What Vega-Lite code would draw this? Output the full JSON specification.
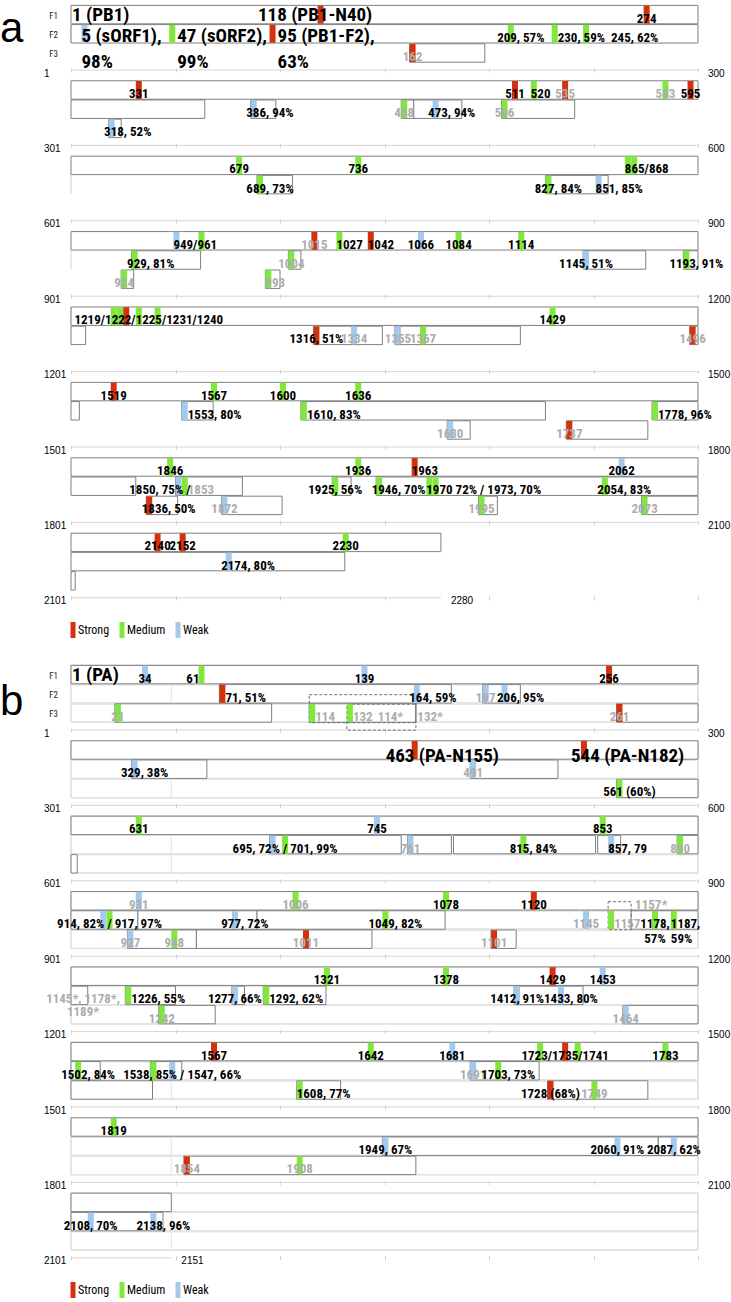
{
"$schema":"https://vega.github.io/schema/vega-lite/v6.json",
"padding":{"left":0,"top":4,"right":0,"bottom":0},
"config":{"view":{"stroke":null},
 "axisX":{"labels":false,"domain":false,"grid":false,"tickCount":6,"tickColor":"#d0d0d0","tickSize":4,"offset":5.4,"titleColor":"transparent"},
 "axisY":{"disable":true,"labels":false,"ticks":false,"domain":false,"grid":false,"titleColor":"transparent"},
 "text":{"font":"Roboto Condensed, Liberation Sans Narrow, Liberation Sans, sans-serif","fontSize":13,"fontWeight":"bold","baseline":"alphabetic","lineBreak":"\n","lineHeight":15,"dy":8}},
"datasets":{
"a":[
{"k":"line","row":0,"len":300,"from":"1","to":"300","panel":"a","frames":["F1","F2","F3"]},
{"k":"line","row":1,"len":300,"from":"301","to":"600","panel":"a","frames":["F1","F2","F3"]},
{"k":"line","row":2,"len":300,"from":"601","to":"900","panel":"a","frames":["F1","F2","F3"]},
{"k":"line","row":3,"len":300,"from":"901","to":"1200","panel":"a","frames":["F1","F2","F3"]},
{"k":"line","row":4,"len":300,"from":"1201","to":"1500","panel":"a","frames":["F1","F2","F3"]},
{"k":"line","row":5,"len":300,"from":"1501","to":"1800","panel":"a","frames":["F1","F2","F3"]},
{"k":"line","row":6,"len":300,"from":"1801","to":"2100","panel":"a","frames":["F1","F2","F3"]},
{"k":"line","row":7,"len":177,"from":"2101","to":"2280","panel":"a","frames":["F1","F2","F3"]},
{"k":"orf","row":0,"f":"F1","start":0,"end":300},
{"k":"orf","row":0,"f":"F2","start":0,"end":300},
{"k":"orf","row":0,"f":"F3","start":162,"end":198},
{"k":"orf","row":1,"f":"F1","start":0,"end":300},
{"k":"orf","row":1,"f":"F2","start":0,"end":64},
{"k":"orf","row":1,"f":"F2","start":86,"end":98},
{"k":"orf","row":1,"f":"F2","start":158,"end":164},
{"k":"orf","row":1,"f":"F2","start":164,"end":187},
{"k":"orf","row":1,"f":"F2","start":206,"end":241},
{"k":"orf","row":1,"f":"F3","start":18,"end":24},
{"k":"orf","row":2,"f":"F1","start":0,"end":300},
{"k":"orf","row":2,"f":"F2","start":89,"end":106},
{"k":"orf","row":2,"f":"F2","start":227,"end":257},
{"k":"orf","row":3,"f":"F1","start":0,"end":300},
{"k":"orf","row":3,"f":"F2","start":29,"end":62},
{"k":"orf","row":3,"f":"F2","start":104,"end":110},
{"k":"orf","row":3,"f":"F2","start":245,"end":275},
{"k":"orf","row":3,"f":"F2","start":293,"end":300},
{"k":"orf","row":3,"f":"F3","start":24,"end":30},
{"k":"orf","row":3,"f":"F3","start":93,"end":100},
{"k":"orf","row":4,"f":"F1","start":0,"end":300},
{"k":"orf","row":4,"f":"F2","start":0,"end":7},
{"k":"orf","row":4,"f":"F2","start":116,"end":149},
{"k":"orf","row":4,"f":"F2","start":155,"end":215},
{"k":"orf","row":4,"f":"F2","start":296,"end":300},
{"k":"orf","row":5,"f":"F1","start":0,"end":300},
{"k":"orf","row":5,"f":"F2","start":0,"end":4},
{"k":"orf","row":5,"f":"F2","start":53,"end":68},
{"k":"orf","row":5,"f":"F2","start":110,"end":227},
{"k":"orf","row":5,"f":"F2","start":278,"end":300},
{"k":"orf","row":5,"f":"F3","start":180,"end":191},
{"k":"orf","row":5,"f":"F3","start":237,"end":276},
{"k":"orf","row":6,"f":"F1","start":0,"end":300},
{"k":"orf","row":6,"f":"F2","start":0,"end":31},
{"k":"orf","row":6,"f":"F2","start":50,"end":82},
{"k":"orf","row":6,"f":"F2","start":125,"end":134},
{"k":"orf","row":6,"f":"F2","start":146,"end":300},
{"k":"orf","row":6,"f":"F3","start":36,"end":51},
{"k":"orf","row":6,"f":"F3","start":72,"end":101},
{"k":"orf","row":6,"f":"F3","start":195,"end":204},
{"k":"orf","row":6,"f":"F3","start":273,"end":300},
{"k":"orf","row":7,"f":"F1","start":0,"end":177},
{"k":"orf","row":7,"f":"F2","start":0,"end":131},
{"k":"orf","row":7,"f":"F3","start":0,"end":2},
{"k":"site","row":0,"f":"F1","p":1,"label":"1 (PB1)"},
{"k":"site","row":0,"f":"F1","p":118,"s":"Strong","label":"118 (PB1-N40)"},
{"k":"site","row":0,"f":"F1","p":274,"s":"Strong","label":"274"},
{"k":"site","row":0,"f":"F2","p":5,"s":"Weak","label":"5 (sORF1),\n98%"},
{"k":"site","row":0,"f":"F2","p":47,"s":"Medium","label":"47 (sORF2),\n99%"},
{"k":"site","row":0,"f":"F2","p":95,"s":"Strong","label":"95 (PB1-F2),\n63%"},
{"k":"site","row":0,"f":"F2","p":209,"s":"Medium","label":"209, 57%"},
{"k":"site","row":0,"f":"F2","p":230,"s":"Medium","label":"230, 59%"},
{"k":"site","row":0,"f":"F2","p":245,"s":"Medium","label":"245, 62%"},
{"k":"site","row":0,"f":"F3","p":162,"s":"Strong","label":"162","tone":"minor"},
{"k":"site","row":1,"f":"F1","p":31,"s":"Strong","label":"331"},
{"k":"site","row":1,"f":"F1","p":211,"s":"Strong","label":"511"},
{"k":"site","row":1,"f":"F1","p":220,"s":"Medium","label":"520"},
{"k":"site","row":1,"f":"F1","p":235,"s":"Strong","label":"535","tone":"minor"},
{"k":"site","row":1,"f":"F1","p":283,"s":"Medium","label":"583","tone":"minor"},
{"k":"site","row":1,"f":"F1","p":295,"s":"Strong","label":"595"},
{"k":"site","row":1,"f":"F2","p":86,"s":"Weak","label":"386, 94%"},
{"k":"site","row":1,"f":"F2","p":158,"s":"Medium","label":"458","tone":"minor"},
{"k":"site","row":1,"f":"F2","p":173,"s":"Weak","label":"473, 94%"},
{"k":"site","row":1,"f":"F2","p":206,"s":"Medium","label":"506","tone":"minor"},
{"k":"site","row":1,"f":"F3","p":18,"s":"Weak","label":"318, 52%"},
{"k":"site","row":2,"f":"F1","p":79,"s":"Medium","label":"679"},
{"k":"site","row":2,"f":"F1","p":136,"s":"Medium","label":"736"},
{"k":"site","row":2,"f":"F1","p":265,"s":"Medium","label":"865/868"},
{"k":"site","row":2,"f":"F1","p":268,"s":"Medium","label":""},
{"k":"site","row":2,"f":"F2","p":89,"s":"Medium","label":"689, 73%"},
{"k":"site","row":2,"f":"F2","p":227,"s":"Medium","label":"827, 84%"},
{"k":"site","row":2,"f":"F2","p":251,"s":"Weak","label":"851, 85%"},
{"k":"site","row":3,"f":"F1","p":49,"s":"Weak","label":"949/961"},
{"k":"site","row":3,"f":"F1","p":61,"s":"Medium","label":""},
{"k":"site","row":3,"f":"F1","p":115,"s":"Strong","label":"1015","tone":"minor"},
{"k":"site","row":3,"f":"F1","p":127,"s":"Medium","label":"1027"},
{"k":"site","row":3,"f":"F1","p":142,"s":"Strong","label":"1042"},
{"k":"site","row":3,"f":"F1","p":166,"s":"Weak","label":"1066"},
{"k":"site","row":3,"f":"F1","p":184,"s":"Medium","label":"1084"},
{"k":"site","row":3,"f":"F1","p":214,"s":"Medium","label":"1114"},
{"k":"site","row":3,"f":"F2","p":29,"s":"Medium","label":"929, 81%"},
{"k":"site","row":3,"f":"F2","p":104,"s":"Medium","label":"1004","tone":"minor"},
{"k":"site","row":3,"f":"F2","p":245,"s":"Weak","label":"1145, 51%"},
{"k":"site","row":3,"f":"F2","p":293,"s":"Medium","label":"1193, 91%"},
{"k":"site","row":3,"f":"F3","p":24,"s":"Medium","label":"924","tone":"minor"},
{"k":"site","row":3,"f":"F3","p":93,"s":"Medium","label":"993","tone":"minor"},
{"k":"site","row":4,"f":"F1","p":19,"s":"Medium","label":""},
{"k":"site","row":4,"f":"F1","p":22,"s":"Medium","label":""},
{"k":"site","row":4,"f":"F1","p":25,"s":"Strong","label":""},
{"k":"site","row":4,"f":"F1","p":31,"s":"Medium","label":"1219/1222/1225/1231/1240"},
{"k":"site","row":4,"f":"F1","p":40,"s":"Medium","label":""},
{"k":"site","row":4,"f":"F1","p":229,"s":"Medium","label":"1429"},
{"k":"site","row":4,"f":"F2","p":116,"s":"Strong","label":"1316, 51%"},
{"k":"site","row":4,"f":"F2","p":134,"s":"Weak","label":"1334","tone":"minor"},
{"k":"site","row":4,"f":"F2","p":155,"s":"Weak","label":"1355","tone":"minor"},
{"k":"site","row":4,"f":"F2","p":167,"s":"Medium","label":"1367","tone":"minor"},
{"k":"site","row":4,"f":"F2","p":296,"s":"Strong","label":"1496","tone":"minor"},
{"k":"site","row":5,"f":"F1","p":19,"s":"Strong","label":"1519"},
{"k":"site","row":5,"f":"F1","p":67,"s":"Medium","label":"1567"},
{"k":"site","row":5,"f":"F1","p":100,"s":"Medium","label":"1600"},
{"k":"site","row":5,"f":"F1","p":136,"s":"Medium","label":"1636"},
{"k":"site","row":5,"f":"F2","p":53,"s":"Weak","label":"1553, 80%"},
{"k":"site","row":5,"f":"F2","p":110,"s":"Medium","label":"1610, 83%"},
{"k":"site","row":5,"f":"F2","p":278,"s":"Medium","label":"1778, 96%"},
{"k":"site","row":5,"f":"F3","p":180,"s":"Weak","label":"1680","tone":"minor"},
{"k":"site","row":5,"f":"F3","p":237,"s":"Strong","label":"1737","tone":"minor"},
{"k":"site","row":6,"f":"F1","p":46,"s":"Medium","label":"1846"},
{"k":"site","row":6,"f":"F1","p":136,"s":"Medium","label":"1936"},
{"k":"site","row":6,"f":"F1","p":163,"s":"Strong","label":"1963"},
{"k":"site","row":6,"f":"F1","p":262,"s":"Weak","label":"2062"},
{"k":"site","row":6,"f":"F2","p":50,"s":"Weak","label":"1850, 75% /"},
{"k":"site","row":6,"f":"F2","p":53,"s":"Medium","label":"1853","tone":"minor"},
{"k":"site","row":6,"f":"F2","p":125,"s":"Medium","label":"1925, 56%"},
{"k":"site","row":6,"f":"F2","p":146,"s":"Medium","label":"1946, 70%"},
{"k":"site","row":6,"f":"F2","p":170,"s":"Medium","label":"1970 72% / 1973, 70%"},
{"k":"site","row":6,"f":"F2","p":173,"s":"Medium","label":""},
{"k":"site","row":6,"f":"F2","p":254,"s":"Medium","label":"2054, 83%"},
{"k":"site","row":6,"f":"F3","p":36,"s":"Strong","label":"1836, 50%"},
{"k":"site","row":6,"f":"F3","p":72,"s":"Weak","label":"1872","tone":"minor"},
{"k":"site","row":6,"f":"F3","p":195,"s":"Medium","label":"1995","tone":"minor"},
{"k":"site","row":6,"f":"F3","p":273,"s":"Medium","label":"2073","tone":"minor"},
{"k":"site","row":7,"f":"F1","p":40,"s":"Strong","label":"2140"},
{"k":"site","row":7,"f":"F1","p":52,"s":"Strong","label":"2152"},
{"k":"site","row":7,"f":"F1","p":130,"s":"Medium","label":"2230"},
{"k":"site","row":7,"f":"F2","p":74,"s":"Weak","label":"2174, 80%"}
],
"b":[
{"k":"line","row":0,"len":300,"from":"1","to":"300","panel":"b","frames":["F1","F2","F3"]},
{"k":"line","row":1,"len":300,"from":"301","to":"600","panel":"b","frames":["F1","F2","F3"]},
{"k":"line","row":2,"len":300,"from":"601","to":"900","panel":"b","frames":["F1","F2","F3"]},
{"k":"line","row":3,"len":300,"from":"901","to":"1200","panel":"b","frames":["F1","F2","F3"]},
{"k":"line","row":4,"len":300,"from":"1201","to":"1500","panel":"b","frames":["F1","F2","F3"]},
{"k":"line","row":5,"len":300,"from":"1501","to":"1800","panel":"b","frames":["F1","F2","F3"]},
{"k":"line","row":6,"len":300,"from":"1801","to":"2100","panel":"b","frames":["F1","F2","F3"]},
{"k":"line","row":7,"len":48,"from":"2101","to":"2151","panel":"b","frames":["F1","F2","F3"]},
{"k":"orf","row":0,"f":"F1","start":0,"end":300},
{"k":"orf","row":0,"f":"F2","start":71,"end":182},
{"k":"orf","row":0,"f":"F2","start":197,"end":215},
{"k":"orf","row":0,"f":"F3","start":21,"end":96},
{"k":"orf","row":0,"f":"F3","start":114,"end":165},
{"k":"orf","row":0,"f":"F3","start":261,"end":300},
{"k":"alt","row":0,"f":"F3","start":114,"end":165,"note":"114*"},
{"k":"alt","row":0,"f":"F3","start":132,"end":165,"note":"132*"},
{"k":"orf","row":1,"f":"F1","start":0,"end":300},
{"k":"orf","row":1,"f":"F2","start":29,"end":65},
{"k":"orf","row":1,"f":"F2","start":191,"end":233},
{"k":"orf","row":1,"f":"F3","start":261,"end":300},
{"k":"orf","row":2,"f":"F1","start":0,"end":300},
{"k":"orf","row":2,"f":"F2","start":95,"end":158},
{"k":"orf","row":2,"f":"F2","start":161,"end":182},
{"k":"orf","row":2,"f":"F2","start":183,"end":251},
{"k":"orf","row":2,"f":"F2","start":252,"end":263},
{"k":"orf","row":2,"f":"F2","start":290,"end":300},
{"k":"orf","row":2,"f":"F3","start":0,"end":3},
{"k":"orf","row":3,"f":"F1","start":0,"end":300},
{"k":"orf","row":3,"f":"F2","start":0,"end":32},
{"k":"orf","row":3,"f":"F2","start":32,"end":89},
{"k":"orf","row":3,"f":"F2","start":89,"end":179},
{"k":"orf","row":3,"f":"F2","start":268,"end":300},
{"k":"alt","row":3,"f":"F2","start":257,"end":268,"note":"1157*"},
{"k":"orf","row":3,"f":"F3","start":27,"end":60},
{"k":"orf","row":3,"f":"F3","start":60,"end":144},
{"k":"orf","row":3,"f":"F3","start":201,"end":213},
{"k":"orf","row":4,"f":"F1","start":0,"end":300},
{"k":"orf","row":4,"f":"F2","start":0,"end":8,"note":"1145*, 1178*,\n1189*"},
{"k":"orf","row":4,"f":"F2","start":26,"end":50},
{"k":"orf","row":4,"f":"F2","start":77,"end":83},
{"k":"orf","row":4,"f":"F2","start":92,"end":122},
{"k":"orf","row":4,"f":"F2","start":212,"end":245},
{"k":"orf","row":4,"f":"F3","start":42,"end":69},
{"k":"orf","row":4,"f":"F3","start":264,"end":300},
{"k":"orf","row":5,"f":"F1","start":0,"end":300},
{"k":"orf","row":5,"f":"F2","start":0,"end":14},
{"k":"orf","row":5,"f":"F2","start":38,"end":53},
{"k":"orf","row":5,"f":"F2","start":191,"end":224},
{"k":"orf","row":5,"f":"F3","start":0,"end":39},
{"k":"orf","row":5,"f":"F3","start":108,"end":129},
{"k":"orf","row":5,"f":"F3","start":228,"end":276},
{"k":"orf","row":6,"f":"F1","start":0,"end":300},
{"k":"orf","row":6,"f":"F2","start":149,"end":281},
{"k":"orf","row":6,"f":"F2","start":281,"end":300},
{"k":"orf","row":6,"f":"F3","start":54,"end":165},
{"k":"orf","row":7,"f":"F1","start":0,"end":48},
{"k":"orf","row":7,"f":"F2","start":0,"end":44},
{"k":"site","row":0,"f":"F1","p":1,"label":"1 (PA)"},
{"k":"site","row":0,"f":"F1","p":34,"s":"Weak","label":"34"},
{"k":"site","row":0,"f":"F1","p":61,"s":"Medium","label":"61"},
{"k":"site","row":0,"f":"F1","p":139,"s":"Weak","label":"139"},
{"k":"site","row":0,"f":"F1","p":256,"s":"Strong","label":"256"},
{"k":"site","row":0,"f":"F2","p":71,"s":"Strong","label":"71, 51%"},
{"k":"site","row":0,"f":"F2","p":164,"s":"Weak","label":"164, 59%"},
{"k":"site","row":0,"f":"F2","p":197,"s":"Weak","label":"197","tone":"minor"},
{"k":"site","row":0,"f":"F2","p":206,"s":"Weak","label":"206, 95%"},
{"k":"site","row":0,"f":"F3","p":21,"s":"Medium","label":"21","tone":"minor"},
{"k":"site","row":0,"f":"F3","p":114,"s":"Medium","label":"114","tone":"minor"},
{"k":"site","row":0,"f":"F3","p":132,"s":"Medium","label":"132","tone":"minor"},
{"k":"site","row":0,"f":"F3","p":261,"s":"Strong","label":"261","tone":"minor"},
{"k":"site","row":1,"f":"F1","p":163,"s":"Strong","label":"463 (PA-N155)"},
{"k":"site","row":1,"f":"F1","p":244,"s":"Strong","label":"544 (PA-N182)"},
{"k":"site","row":1,"f":"F2","p":29,"s":"Weak","label":"329, 38%"},
{"k":"site","row":1,"f":"F2","p":191,"s":"Weak","label":"491","tone":"minor"},
{"k":"site","row":1,"f":"F3","p":261,"s":"Medium","label":"561 (60%)"},
{"k":"site","row":2,"f":"F1","p":31,"s":"Medium","label":"631"},
{"k":"site","row":2,"f":"F1","p":145,"s":"Weak","label":"745"},
{"k":"site","row":2,"f":"F1","p":253,"s":"Medium","label":"853"},
{"k":"site","row":2,"f":"F2","p":95,"s":"Weak","label":""},
{"k":"site","row":2,"f":"F2","p":101,"s":"Medium","label":"695, 72% / 701, 99%"},
{"k":"site","row":2,"f":"F2","p":161,"s":"Weak","label":"761","tone":"minor"},
{"k":"site","row":2,"f":"F2","p":215,"s":"Medium","label":"815, 84%"},
{"k":"site","row":2,"f":"F2","p":257,"s":"Weak","label":"857, 79"},
{"k":"site","row":2,"f":"F2","p":290,"s":"Medium","label":"890","tone":"minor"},
{"k":"site","row":3,"f":"F1","p":31,"s":"Weak","label":"931","tone":"minor"},
{"k":"site","row":3,"f":"F1","p":106,"s":"Medium","label":"1006","tone":"minor"},
{"k":"site","row":3,"f":"F1","p":178,"s":"Medium","label":"1078"},
{"k":"site","row":3,"f":"F1","p":220,"s":"Strong","label":"1120"},
{"k":"site","row":3,"f":"F2","p":14,"s":"Weak","label":""},
{"k":"site","row":3,"f":"F2","p":17,"s":"Medium","label":"914, 82% / 917, 97%"},
{"k":"site","row":3,"f":"F2","p":77,"s":"Weak","label":"977, 72%"},
{"k":"site","row":3,"f":"F2","p":149,"s":"Medium","label":"1049, 82%"},
{"k":"site","row":3,"f":"F2","p":245,"s":"Weak","label":"1145","tone":"minor"},
{"k":"site","row":3,"f":"F2","p":257,"s":"Medium","label":"1157","tone":"minor"},
{"k":"site","row":3,"f":"F2","p":278,"s":"Medium","label":"1178,\n57%"},
{"k":"site","row":3,"f":"F2","p":287,"s":"Medium","label":"1187,\n59%"},
{"k":"site","row":3,"f":"F3","p":27,"s":"Weak","label":"927","tone":"minor"},
{"k":"site","row":3,"f":"F3","p":48,"s":"Medium","label":"948","tone":"minor"},
{"k":"site","row":3,"f":"F3","p":111,"s":"Strong","label":"1011","tone":"minor"},
{"k":"site","row":3,"f":"F3","p":201,"s":"Strong","label":"1101","tone":"minor"},
{"k":"site","row":4,"f":"F1","p":121,"s":"Medium","label":"1321"},
{"k":"site","row":4,"f":"F1","p":178,"s":"Medium","label":"1378"},
{"k":"site","row":4,"f":"F1","p":229,"s":"Strong","label":"1429"},
{"k":"site","row":4,"f":"F1","p":253,"s":"Weak","label":"1453"},
{"k":"site","row":4,"f":"F2","p":26,"s":"Medium","label":"1226, 55%"},
{"k":"site","row":4,"f":"F2","p":77,"s":"Weak","label":"1277, 66%"},
{"k":"site","row":4,"f":"F2","p":92,"s":"Medium","label":"1292, 62%"},
{"k":"site","row":4,"f":"F2","p":212,"s":"Weak","label":"1412, 91%"},
{"k":"site","row":4,"f":"F2","p":233,"s":"Weak","label":"1433, 80%"},
{"k":"site","row":4,"f":"F3","p":42,"s":"Medium","label":"1242","tone":"minor"},
{"k":"site","row":4,"f":"F3","p":264,"s":"Weak","label":"1464","tone":"minor"},
{"k":"site","row":5,"f":"F1","p":67,"s":"Strong","label":"1567"},
{"k":"site","row":5,"f":"F1","p":142,"s":"Medium","label":"1642"},
{"k":"site","row":5,"f":"F1","p":181,"s":"Weak","label":"1681"},
{"k":"site","row":5,"f":"F1","p":223,"s":"Medium","label":""},
{"k":"site","row":5,"f":"F1","p":235,"s":"Strong","label":"1723/1735/1741"},
{"k":"site","row":5,"f":"F1","p":241,"s":"Medium","label":""},
{"k":"site","row":5,"f":"F1","p":283,"s":"Medium","label":"1783"},
{"k":"site","row":5,"f":"F2","p":2,"s":"Medium","label":"1502, 84%"},
{"k":"site","row":5,"f":"F2","p":38,"s":"Medium","label":""},
{"k":"site","row":5,"f":"F2","p":47,"s":"Weak","label":"1538, 85% / 1547, 66%"},
{"k":"site","row":5,"f":"F2","p":191,"s":"Weak","label":"1691","tone":"minor"},
{"k":"site","row":5,"f":"F2","p":203,"s":"Medium","label":"1703, 73%"},
{"k":"site","row":5,"f":"F3","p":108,"s":"Medium","label":"1608, 77%"},
{"k":"site","row":5,"f":"F3","p":228,"s":"Strong","label":"1728 (68%)"},
{"k":"site","row":5,"f":"F3","p":249,"s":"Medium","label":"1749","tone":"minor"},
{"k":"site","row":6,"f":"F1","p":19,"s":"Medium","label":"1819"},
{"k":"site","row":6,"f":"F2","p":149,"s":"Weak","label":"1949, 67%"},
{"k":"site","row":6,"f":"F2","p":260,"s":"Weak","label":"2060, 91%"},
{"k":"site","row":6,"f":"F2","p":287,"s":"Weak","label":"2087, 62%"},
{"k":"site","row":6,"f":"F3","p":54,"s":"Strong","label":"1854","tone":"minor"},
{"k":"site","row":6,"f":"F3","p":108,"s":"Medium","label":"1908","tone":"minor"},
{"k":"site","row":7,"f":"F2","p":8,"s":"Weak","label":"2108, 70%"},
{"k":"site","row":7,"f":"F2","p":38,"s":"Weak","label":"2138, 96%"}
]},
"vconcat":[
{"data":{"name":"a"},
 "facet":{"row":{"field":"row","type":"ordinal","header":{"labels":false,"title":null}}},
 "spacing":17.4,"bounds":"flush",
 "resolve":{"axis":{"x":"independent"}},
 "spec":{"width":627,"height":57.6,
  "encoding":{
   "x":{"field":"p","type":"quantitative","scale":{"domain":[0,300],"nice":false,"zero":false},"title":null},
   "y":{"field":"f","type":"nominal","scale":{"domain":["F1","F2","F3"],"paddingInner":0.04,"paddingOuter":0.02},"axis":null}},
  "layer":[
   {"transform":[{"filter":"datum.k === 'line'"},{"flatten":["frames"],"as":["f"]}],
    "mark":{"type":"rect","fill":"#ffffff","fillOpacity":0,"stroke":"#e4e4e4","strokeWidth":1},
    "encoding":{"x":{"field":"len","type":"quantitative","title":null},"x2":{"value":0}}},
   {"transform":[{"filter":"datum.k === 'line'"}],
    "mark":{"type":"rule","color":"#d6d6d6","yOffset":17},
    "encoding":{"x":{"field":"len","type":"quantitative","title":null},"x2":{"value":0},"y":{"datum":"F3","type":"nominal","axis":null}}},
   {"transform":[{"filter":"datum.k === 'orf'"}],
    "mark":{"type":"rect","fill":"#ffffff","stroke":"#7f7f7f","strokeWidth":1},
    "encoding":{"x":{"field":"start","type":"quantitative","title":null},"x2":{"field":"end"}}},
   {"transform":[{"filter":"datum.k === 'site' && isValid(datum.s)"}],
    "mark":{"type":"tick","thickness":6,"size":18,"xOffset":3,"opacity":1},
    "encoding":{"color":{"field":"s","type":"nominal","scale":{"domain":["Strong","Medium","Weak"],"range":["#d4320f","#80e83c","#a3c9ef"]},
      "legend":{"orient":"none","legendX":-6,"legendY":617,"direction":"horizontal","title":null,"symbolType":"M-0.3125,-1H0.3125V1H-0.3125Z","symbolSize":256,"symbolStrokeWidth":0,"labelFont":"Roboto Condensed, Liberation Sans Narrow, Liberation Sans, sans-serif","labelFontSize":12,"labelOffset":-3,"columnPadding":4}}}},
   {"transform":[{"filter":"datum.k === 'site' && datum.label && datum.label !== ''"},{"filter":{"not":{"field":"label","oneOf":["209, 57%","689, 73%","827, 84%","1193, 91%","329, 38%","561 (60%)","815, 84%","977, 72%","1049, 82%","1502, 84%","1538, 85% / 1547, 66%","1703, 73%","2138, 96%","1433, 80%","1219/1222/1225/1231/1240","230, 59%","1553, 80%","1610, 83%","1778, 96%","1853","71, 51%","114","132","1157","1226, 55%","1292, 62%","520","865/868","851, 85%","949/961","1027","1042","993","1963","1970 72% / 1973, 70%","857, 79","1608, 77%","1187,\n59%","386, 94%","473, 94%","318, 52%","929, 81%","1946, 70%","2054, 83%","1836, 50%","2174, 80%","164, 59%","206, 95%","245, 62%","61","1850, 75% /","1 (PB1)","1 (PA)","5 (sORF1),\n98%","47 (sORF2),\n99%","95 (PB1-F2),\n63%","118 (PB1-N40)","463 (PA-N155)","544 (PA-N182)"]}}}],
    "mark":{"type":"text","align":"center","dx":3},
    "encoding":{"text":{"field":"label"},"color":{"condition":{"test":"datum.tone === 'minor'","value":"#adadad"},"value":"#000000"}}},
   {"transform":[{"filter":{"field":"label","oneOf":["209, 57%","689, 73%","827, 84%","1193, 91%","329, 38%","561 (60%)","815, 84%","977, 72%","1049, 82%","1502, 84%","1538, 85% / 1547, 66%","1703, 73%","2138, 96%","1433, 80%","1219/1222/1225/1231/1240"]}}],
    "mark":{"type":"text","align":"center","dx":13},
    "encoding":{"text":{"field":"label"},"color":{"condition":{"test":"datum.tone === 'minor'","value":"#adadad"},"value":"#000000"}}},
   {"transform":[{"filter":{"field":"label","oneOf":["230, 59%","1553, 80%","1610, 83%","1778, 96%","1853","71, 51%","114","132","1157","1226, 55%","1292, 62%"]}}],
    "mark":{"type":"text","align":"left","dx":6},
    "encoding":{"text":{"field":"label"},"color":{"condition":{"test":"datum.tone === 'minor'","value":"#adadad"},"value":"#000000"}}},
   {"transform":[{"filter":{"field":"label","oneOf":["520","865/868","851, 85%","949/961","1027","1042","993","1963","1970 72% / 1973, 70%","857, 79","1608, 77%","1187,\n59%"]}}],
    "mark":{"type":"text","align":"left","dx":0},
    "encoding":{"text":{"field":"label"},"color":{"condition":{"test":"datum.tone === 'minor'","value":"#adadad"},"value":"#000000"}}},
   {"transform":[{"filter":{"field":"label","oneOf":["386, 94%","473, 94%","318, 52%","929, 81%","1946, 70%","2054, 83%","1836, 50%","2174, 80%","164, 59%","206, 95%"]}}],
    "mark":{"type":"text","align":"left","dx":-4.5},
    "encoding":{"text":{"field":"label"},"color":{"condition":{"test":"datum.tone === 'minor'","value":"#adadad"},"value":"#000000"}}},
   {"transform":[{"filter":{"field":"label","oneOf":["245, 62%"]}}],
    "mark":{"type":"text","align":"left","dx":28},
    "encoding":{"text":{"field":"label"}}},
   {"transform":[{"filter":{"field":"label","oneOf":["1850, 75% /"]}}],
    "mark":{"type":"text","align":"right","dx":15},
    "encoding":{"text":{"field":"label"}}},
   {"transform":[{"filter":{"field":"label","oneOf":["1 (PB1)","1 (PA)"]}}],
    "mark":{"type":"text","align":"left","dx":-1,"dy":6,"fontSize":19},
    "encoding":{"text":{"field":"label"}}},
   {"transform":[{"filter":{"field":"label","oneOf":["5 (sORF1),\n98%"]}}],
    "mark":{"type":"text","align":"left","dx":0,"dy":8.6,"fontSize":19,"lineHeight":26},
    "encoding":{"text":{"field":"label"}}},
   {"transform":[{"filter":{"field":"label","oneOf":["47 (sORF2),\n99%","95 (PB1-F2),\n63%"]}}],
    "mark":{"type":"text","align":"left","dx":8,"dy":8.6,"fontSize":19,"lineHeight":26},
    "encoding":{"text":{"field":"label"}}},
   {"transform":[{"filter":{"field":"label","oneOf":["118 (PB1-N40)"]}}],
    "mark":{"type":"text","align":"center","dx":-2.5,"dy":6,"fontSize":19},
    "encoding":{"text":{"field":"label"}}},
   {"transform":[{"filter":"datum.k === 'line'"}],
    "mark":{"type":"text","align":"left","dx":-27,"dy":23.6,"font":"Liberation Sans, Arial, sans-serif","fontWeight":"normal","fontSize":10},
    "encoding":{"x":{"value":0},"y":{"datum":"F3","type":"nominal","axis":null},"text":{"field":"from"}}},
   {"transform":[{"filter":"datum.k === 'line'"}],
    "mark":{"type":"text","align":"left","dx":10,"dy":23.6,"font":"Liberation Sans, Arial, sans-serif","fontWeight":"normal","fontSize":10},
    "encoding":{"x":{"field":"len","type":"quantitative","title":null},"y":{"datum":"F3","type":"nominal","axis":null},"text":{"field":"to"}}},
   {"transform":[{"filter":"datum.k === 'line' && datum.row === 0"}],
    "mark":{"type":"text","align":"right","dx":-13,"dy":4,"lineHeight":19.2,"fontWeight":"normal","fontSize":9,"color":"#222222"},
    "encoding":{"x":{"value":0},"y":{"datum":"F1","type":"nominal","axis":null},"text":{"field":"frames"}}},
   {"transform":[{"filter":"datum.k === 'line' && datum.row === 0"}],
    "mark":{"type":"text","align":"left","dx":-71,"dy":27,"font":"Liberation Sans, Arial, sans-serif","fontWeight":"normal","fontSize":42,"color":"#000000"},
    "encoding":{"x":{"value":0},"y":{"datum":"F1","type":"nominal","axis":null},"text":{"field":"panel"}}}
  ]}},
{"data":{"name":"b"},
 "facet":{"row":{"field":"row","type":"ordinal","header":{"labels":false,"title":null}}},
 "spacing":17.4,"bounds":"flush",
 "resolve":{"axis":{"x":"independent"}},
 "spec":{"width":627,"height":57.6,
  "encoding":{
   "x":{"field":"p","type":"quantitative","scale":{"domain":[0,300],"nice":false,"zero":false},"title":null},
   "y":{"field":"f","type":"nominal","scale":{"domain":["F1","F2","F3"],"paddingInner":0.04,"paddingOuter":0.02},"axis":null}},
  "layer":[
   {"transform":[{"filter":"datum.k === 'line'"},{"flatten":["frames"],"as":["f"]}],
    "mark":{"type":"rect","fill":"#ffffff","fillOpacity":0,"stroke":"#e4e4e4","strokeWidth":1},
    "encoding":{"x":{"field":"len","type":"quantitative","title":null},"x2":{"value":0}}},
   {"transform":[{"filter":"datum.k === 'line'"}],
    "mark":{"type":"rule","color":"#d6d6d6","yOffset":17},
    "encoding":{"x":{"field":"len","type":"quantitative","title":null},"x2":{"value":0},"y":{"datum":"F3","type":"nominal","axis":null}}},
   {"transform":[{"filter":"datum.k === 'orf'"}],
    "mark":{"type":"rect","fill":"#ffffff","stroke":"#7f7f7f","strokeWidth":1},
    "encoding":{"x":{"field":"start","type":"quantitative","title":null},"x2":{"field":"end"}}},
   {"transform":[{"filter":"datum.k === 'alt'"},{"filter":{"field":"note","oneOf":["114*","1157*"]}}],
    "mark":{"type":"rect","fill":"#ffffff","fillOpacity":0,"stroke":"#6e6e6e","strokeWidth":1,"strokeDash":[3,2],"height":28,"yOffset":-4.3},
    "encoding":{"x":{"field":"start","type":"quantitative","title":null},"x2":{"field":"end"}}},
   {"transform":[{"filter":"datum.k === 'alt'"},{"filter":{"field":"note","oneOf":["132*"]}}],
    "mark":{"type":"rect","fill":"#ffffff","fillOpacity":0,"stroke":"#6e6e6e","strokeWidth":1,"strokeDash":[3,2],"height":26,"yOffset":4.2},
    "encoding":{"x":{"field":"start","type":"quantitative","title":null},"x2":{"field":"end"}}},
   {"transform":[{"filter":"datum.k === 'site' && isValid(datum.s)"}],
    "mark":{"type":"tick","thickness":6,"size":18,"xOffset":3,"opacity":1},
    "encoding":{"color":{"field":"s","type":"nominal","scale":{"domain":["Strong","Medium","Weak"],"range":["#d4320f","#80e83c","#a3c9ef"]},
      "legend":{"orient":"none","legendX":-6,"legendY":617,"direction":"horizontal","title":null,"symbolType":"M-0.3125,-1H0.3125V1H-0.3125Z","symbolSize":256,"symbolStrokeWidth":0,"labelFont":"Roboto Condensed, Liberation Sans Narrow, Liberation Sans, sans-serif","labelFontSize":12,"labelOffset":-3,"columnPadding":4}}}},
   {"transform":[{"filter":"datum.k === 'site' && datum.label && datum.label !== ''"},{"filter":{"not":{"field":"label","oneOf":["209, 57%","689, 73%","827, 84%","1193, 91%","329, 38%","561 (60%)","815, 84%","977, 72%","1049, 82%","1502, 84%","1538, 85% / 1547, 66%","1703, 73%","2138, 96%","1433, 80%","1219/1222/1225/1231/1240","230, 59%","1553, 80%","1610, 83%","1778, 96%","1853","71, 51%","114","132","1157","1226, 55%","1292, 62%","520","865/868","851, 85%","949/961","1027","1042","993","1963","1970 72% / 1973, 70%","857, 79","1608, 77%","1187,\n59%","386, 94%","473, 94%","318, 52%","929, 81%","1946, 70%","2054, 83%","1836, 50%","2174, 80%","164, 59%","206, 95%","245, 62%","61","1850, 75% /","1 (PB1)","1 (PA)","5 (sORF1),\n98%","47 (sORF2),\n99%","95 (PB1-F2),\n63%","118 (PB1-N40)","463 (PA-N155)","544 (PA-N182)"]}}}],
    "mark":{"type":"text","align":"center","dx":3},
    "encoding":{"text":{"field":"label"},"color":{"condition":{"test":"datum.tone === 'minor'","value":"#adadad"},"value":"#000000"}}},
   {"transform":[{"filter":{"field":"label","oneOf":["209, 57%","689, 73%","827, 84%","1193, 91%","329, 38%","561 (60%)","815, 84%","977, 72%","1049, 82%","1502, 84%","1538, 85% / 1547, 66%","1703, 73%","2138, 96%","1433, 80%","1219/1222/1225/1231/1240"]}}],
    "mark":{"type":"text","align":"center","dx":13},
    "encoding":{"text":{"field":"label"},"color":{"condition":{"test":"datum.tone === 'minor'","value":"#adadad"},"value":"#000000"}}},
   {"transform":[{"filter":{"field":"label","oneOf":["230, 59%","1553, 80%","1610, 83%","1778, 96%","1853","71, 51%","114","132","1157","1226, 55%","1292, 62%"]}}],
    "mark":{"type":"text","align":"left","dx":6},
    "encoding":{"text":{"field":"label"},"color":{"condition":{"test":"datum.tone === 'minor'","value":"#adadad"},"value":"#000000"}}},
   {"transform":[{"filter":{"field":"label","oneOf":["520","865/868","851, 85%","949/961","1027","1042","993","1963","1970 72% / 1973, 70%","857, 79","1608, 77%","1187,\n59%"]}}],
    "mark":{"type":"text","align":"left","dx":0},
    "encoding":{"text":{"field":"label"},"color":{"condition":{"test":"datum.tone === 'minor'","value":"#adadad"},"value":"#000000"}}},
   {"transform":[{"filter":{"field":"label","oneOf":["386, 94%","473, 94%","318, 52%","929, 81%","1946, 70%","2054, 83%","1836, 50%","2174, 80%","164, 59%","206, 95%"]}}],
    "mark":{"type":"text","align":"left","dx":-4.5},
    "encoding":{"text":{"field":"label"},"color":{"condition":{"test":"datum.tone === 'minor'","value":"#adadad"},"value":"#000000"}}},
   {"transform":[{"filter":{"field":"label","oneOf":["61"]}}],
    "mark":{"type":"text","align":"right","dx":1},
    "encoding":{"text":{"field":"label"}}},
   {"transform":[{"filter":{"field":"label","oneOf":["1 (PB1)","1 (PA)"]}}],
    "mark":{"type":"text","align":"left","dx":-1,"dy":6,"fontSize":19},
    "encoding":{"text":{"field":"label"}}},
   {"transform":[{"filter":{"field":"label","oneOf":["463 (PA-N155)"]}}],
    "mark":{"type":"text","align":"left","dx":-26,"dy":12,"fontSize":19},
    "encoding":{"text":{"field":"label"}}},
   {"transform":[{"filter":{"field":"label","oneOf":["544 (PA-N182)"]}}],
    "mark":{"type":"text","align":"left","dx":-10,"dy":12,"fontSize":19},
    "encoding":{"text":{"field":"label"}}},
   {"transform":[{"filter":{"field":"note","equal":"114*"}}],
    "mark":{"type":"text","align":"right","dx":-12.6,"color":"#adadad"},
    "encoding":{"x":{"field":"end","type":"quantitative","title":null},"text":{"field":"note"}}},
   {"transform":[{"filter":{"field":"note","equal":"132*"}}],
    "mark":{"type":"text","align":"left","dx":1.5,"color":"#adadad"},
    "encoding":{"x":{"field":"end","type":"quantitative","title":null},"text":{"field":"note"}}},
   {"transform":[{"filter":{"field":"note","equal":"1157*"}}],
    "mark":{"type":"text","align":"left","dx":4,"dy":-11.5,"color":"#adadad"},
    "encoding":{"x":{"field":"end","type":"quantitative","title":null},"text":{"field":"note"}}},
   {"transform":[{"filter":{"field":"note","equal":"1145*, 1178*,\n1189*"}}],
    "mark":{"type":"text","align":"center","dx":-4.7,"lineHeight":13,"color":"#adadad"},
    "encoding":{"x":{"field":"end","type":"quantitative","title":null},"text":{"field":"note"}}},
   {"transform":[{"filter":"datum.k === 'line'"}],
    "mark":{"type":"text","align":"left","dx":-27,"dy":23.6,"font":"Liberation Sans, Arial, sans-serif","fontWeight":"normal","fontSize":10},
    "encoding":{"x":{"value":0},"y":{"datum":"F3","type":"nominal","axis":null},"text":{"field":"from"}}},
   {"transform":[{"filter":"datum.k === 'line'"}],
    "mark":{"type":"text","align":"left","dx":10,"dy":23.6,"font":"Liberation Sans, Arial, sans-serif","fontWeight":"normal","fontSize":10},
    "encoding":{"x":{"field":"len","type":"quantitative","title":null},"y":{"datum":"F3","type":"nominal","axis":null},"text":{"field":"to"}}},
   {"transform":[{"filter":"datum.k === 'line' && datum.row === 0"}],
    "mark":{"type":"text","align":"right","dx":-13,"dy":4,"lineHeight":19.2,"fontWeight":"normal","fontSize":9,"color":"#222222"},
    "encoding":{"x":{"value":0},"y":{"datum":"F1","type":"nominal","axis":null},"text":{"field":"frames"}}},
   {"transform":[{"filter":"datum.k === 'line' && datum.row === 0"}],
    "mark":{"type":"text","align":"left","dx":-71,"dy":40.4,"font":"Liberation Sans, Arial, sans-serif","fontWeight":"normal","fontSize":42,"color":"#000000"},
    "encoding":{"x":{"value":0},"y":{"datum":"F1","type":"nominal","axis":null},"text":{"field":"panel"}}}
  ]}}
],
"spacing":660,"bounds":"flush",
"resolve":{"scale":{"color":"independent"}}
}
